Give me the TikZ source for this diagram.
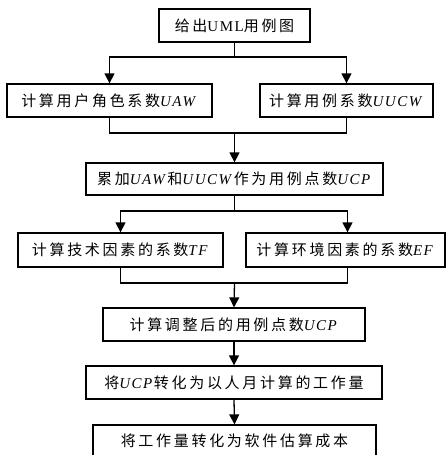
\documentclass[tikz,border=0pt]{standalone}
\usepackage{fontspec}
\setmainfont{Liberation Serif}[LetterSpace=10]
\newfontfamily\cjk{Noto Sans CJK SC}[LetterSpace=18]
\newcommand\zh[1]{{\cjk #1}}
\newcommand\vv[1]{\textit{#1}}
\usetikzlibrary{arrows.meta}
\begin{document}
\begin{tikzpicture}[x=1pt,y=-1pt,
  box/.style={draw,line width=1.3pt,inner sep=0pt,minimum height=33pt,
    font=\fontsize{15}{17}\selectfont},
  ln/.style={line width=1.3pt},
  arr/.style={ln,-{Triangle[width=10pt,length=10pt]}}]
\useasboundingbox (0,0) rectangle (446,455);
\node[box,minimum width=151pt] (b1) at (234.5,25.5) {\zh{给出}UML\zh{用例图}};
\node[box,minimum width=205pt] (b2l) at (109.5,100.5) {\zh{计算用户角色系数}\vv{UAW}};
\node[box,minimum width=173pt] (b2r) at (346.5,100.5) {\zh{计算用例系数}\vv{UUCW}};
\node[box,minimum width=297pt,minimum height=32pt] (b3) at (234.5,179) {\zh{累加}\vv{UAW}\zh{和}\vv{UUCW}\zh{作为用例点数}\vv{UCP}};
\node[box,minimum width=205pt,minimum height=34pt] (b4l) at (120.5,250) {\zh{计算技术因素的系数}\vv{TF}};
\node[box,minimum width=199pt,minimum height=34pt] (b4r) at (345.5,250) {\zh{计算环境因素的系数}\vv{EF}};
\node[box,minimum width=262pt] (b5) at (234,324.5) {\zh{计算调整后的用例点数}\vv{UCP}};
\node[box,minimum width=296pt] (b6) at (234,382.5) {\zh{将}\vv{UCP}\zh{转化为以人月计算的工作量}};
\node[box,minimum width=283pt,minimum height=32pt] (b7) at (234.5,441) {\zh{将工作量转化为软件估算成本}};
\coordinate (j1) at (234.5,57);
\coordinate (j2) at (234.5,133);
\coordinate (j3) at (234.5,211);
\coordinate (j4) at (234.5,283);
\draw[ln] (b1.south) -- (j1);
\draw[arr] (j1) -| (b2l.north);
\draw[arr] (j1) -| (b2r.north);
\draw[ln] (b2l.south) |- (j2) -| (b2r.south);
\draw[arr] (j2) -- (b3.north);
\draw[ln] (b3.south) -- (j3);
\draw[arr] (j3) -| (b4l.north);
\draw[arr] (j3) -| ([xshift=2pt]b4r.north);
\draw[ln] (b4l.south) |- (j4) -| ([xshift=2pt]b4r.south);
\draw[arr] (j4) -- (b5.north);
\draw[arr] (b5.south) -- (b6.north);
\draw[arr] (b6.south) -- (b7.north);
\end{tikzpicture}
\end{document}
